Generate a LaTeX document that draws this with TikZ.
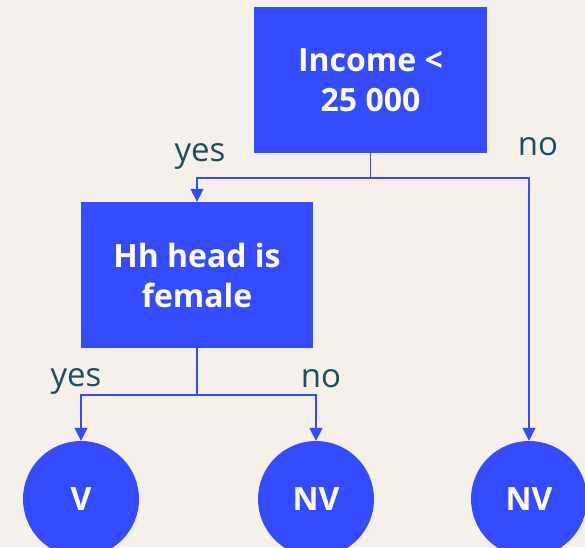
\documentclass[tikz,border=0pt]{standalone}
\usepackage{fontspec}
\setmainfont{Open Sans}
\usetikzlibrary{arrows.meta}
\definecolor{bg}{HTML}{F5F0EA}
\definecolor{nodeblue}{HTML}{344BFF}
\definecolor{labelteal}{HTML}{1F4E5F}
\begin{document}
\begin{tikzpicture}[x=1pt,y=-1pt,
  decision/.style={fill=nodeblue, minimum width=233pt, minimum height=146pt,
    inner sep=0pt, text=white, align=center,
    font=\bfseries\fontsize{32}{40}\selectfont},
  leaf/.style={circle, fill=nodeblue, minimum size=116pt, inner sep=0pt,
    text=white, font=\bfseries\fontsize{32}{40}\selectfont},
  link/.style={draw=nodeblue, line width=1.5pt,
    -{Triangle[width=13pt,length=13pt]}},
  branch/.style={text=labelteal, inner sep=0pt,
    font=\fontsize{33}{38}\selectfont}]
  % background and page frame
  \fill[bg] (0,0) rectangle (585,547);
  \useasboundingbox (0,0) rectangle (585,547);

  % decision boxes
  \node[decision] (income) at (370.5,80) {Income <\\25 000};
  \node[decision, minimum width=232pt] (female) at (197,275) {Hh head is\\female};

  % leaves
  \node[leaf] (v)   at (81,499)  {V};
  \node[leaf] (nv1) at (316,499) {NV};
  \node[leaf] (nv2) at (529,499) {NV};

  % split points below each box
  \coordinate (split1) at (370.5,178);
  \coordinate (split2) at (197,395);

  % connectors
  \draw[link] (income.south) -- (split1) -| (female.north);
  \draw[link] (income.south) -- (split1) -| (nv2.north);
  \draw[link] (female.south) -- (split2) -| (v.north);
  \draw[link] (female.south) -- (split2) -| (nv1.north);

  % branch labels
  \node[branch] (yes1) at (200,156) {yes};
  \node[branch] (no1)  at (538,147) {no};
  \node[branch] (yes2) at (76,381)  {yes};
  \node[branch] (no2)  at (321,379) {no};
\end{tikzpicture}
\end{document}
